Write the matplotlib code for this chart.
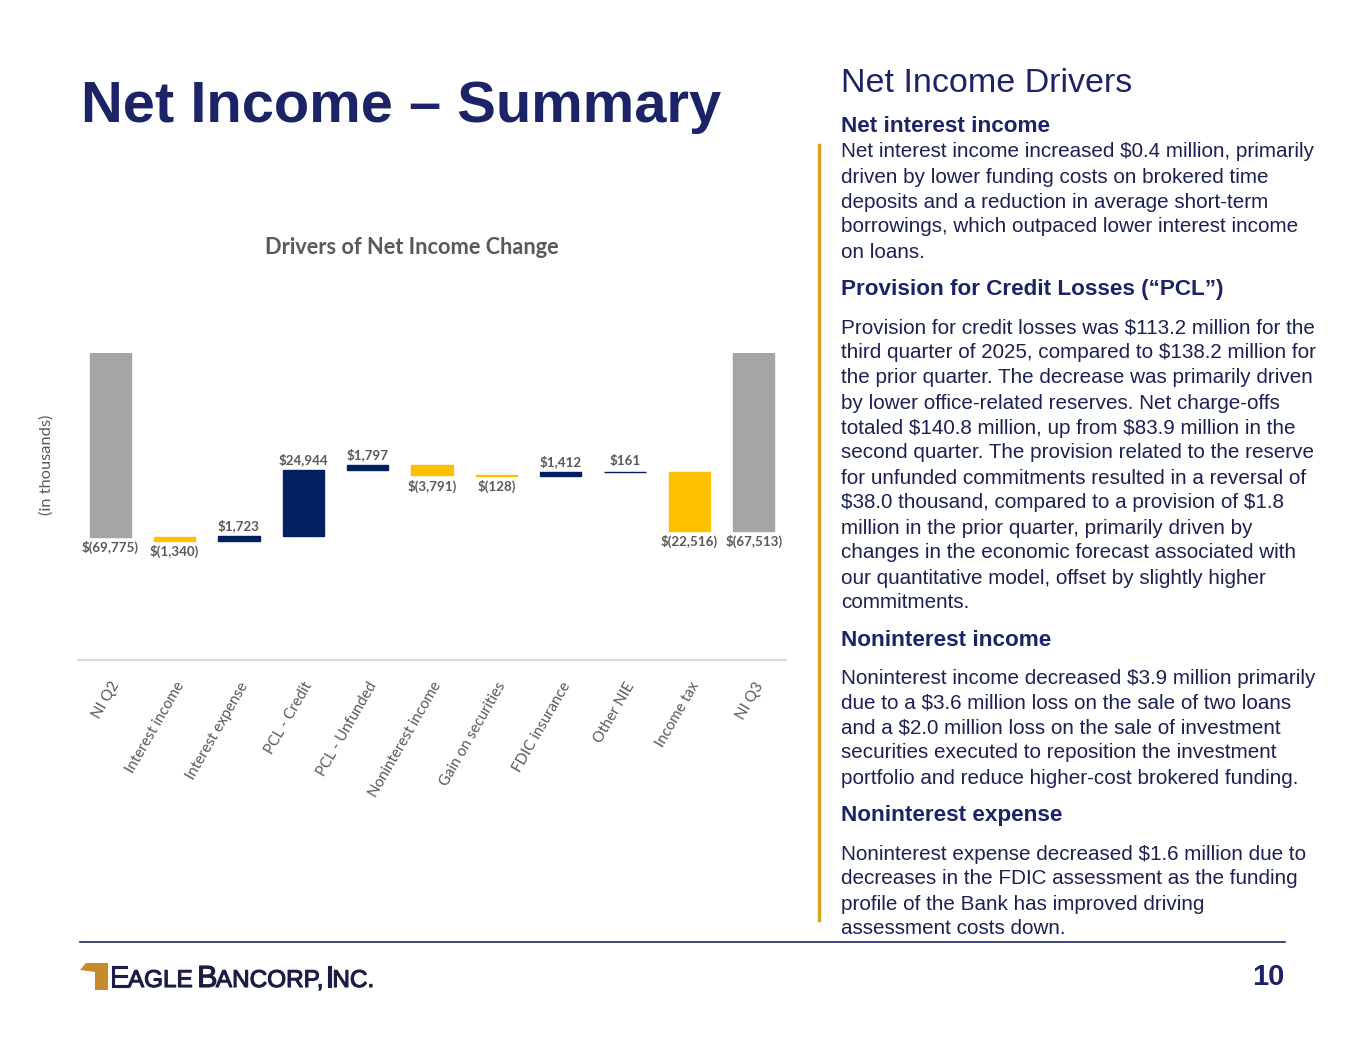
import numpy as np
import matplotlib.pyplot as plt
from matplotlib.patches import Polygon
import matplotlib.patheffects as pe

plt.rcParams['text.parse_math'] = False

W, H = 1365, 1055

categories = ['NI Q2', 'Interest income', 'Interest expense', 'PCL - Credit', 'PCL - Unfunded',
              'Noninterest income', 'Gain on securities', 'FDIC insurance', 'Other NIE',
              'Income tax', 'NI Q3']
values = [-69775, -1340, 1723, 24944, 1797, -3791, -128, 1412, 161, -22516, -67513]
is_total = [True, False, False, False, False, False, False, False, False, False, True]

navy = '#1c2366'
body_col = '#1b2152'
gray_txt = '#595959'
c_total = '#a5a5a5'
c_up = '#002060'
c_down = '#ffc000'


def fx(x):
    return x / W


def fy(y):
    return 1 - y / H


def money(v):
    if v < 0:
        return '$({:,})'.format(-v)
    return '${:,}'.format(v)


fig = plt.figure(figsize=(W / 100, H / 100), dpi=100)
fig.patch.set_facecolor('white')

# ---- waterfall chart ----
ax_l, ax_r, ax_t, ax_b = 78, 786, 353, 660
ax = fig.add_axes([fx(ax_l), fy(ax_b), (ax_r - ax_l) / W, (ax_b - ax_t) / H])
ax.set_xlim(-0.5, len(categories) - 0.5)
ax.set_ylim(-116420, 0)
for s in ['top', 'right', 'left']:
    ax.spines[s].set_visible(False)
ax.spines['bottom'].set_color('#d9d9d9')
ax.spines['bottom'].set_linewidth(1.5)
ax.set_yticks([])
ax.tick_params(axis='x', length=0, pad=14)
ax.set_xticks(range(len(categories)))
ax.set_xticklabels(categories, rotation=60, ha='right', va='top', rotation_mode='anchor',
                   color=gray_txt, fontsize=10.8, family='Lato')

run = 0
for i, v in enumerate(values):
    if is_total[i]:
        bottom, height, col = v, -v, c_total
        run = v
        top_val, bot_val = 0, v
        above = False
    else:
        bottom = min(run, run + v)
        height = abs(v)
        col = c_up if v > 0 else c_down
        top_val, bot_val = bottom + height, bottom
        above = v > 0
        run = run + v
    ax.bar(i, height, bottom=bottom, width=0.64, color=col, edgecolor=col, linewidth=1.0)
    if above:
        ax.annotate(money(v), (i, top_val), xytext=(0, 3), textcoords='offset points',
                    ha='center', va='bottom', color=gray_txt, fontsize=9.6,
                    fontweight='bold', family='Lato', annotation_clip=False)
    else:
        ax.annotate(money(v), (i, bot_val), xytext=(0, -3), textcoords='offset points',
                    ha='center', va='top', color=gray_txt, fontsize=9.6,
                    fontweight='bold', family='Lato', annotation_clip=False)

fig.text(fx(412), fy(248), 'Drivers of Net Income Change', ha='center', va='center',
         color=gray_txt, fontsize=15.7, fontweight='bold', family='Lato')
fig.text(fx(47), fy(465), '(in thousands)', ha='center', va='center', rotation=90,
         color=gray_txt, fontsize=11.8, family='Lato')

# ---- slide title ----
fig.text(fx(81), fy(122), 'Net Income – Summary', ha='left', va='baseline',
         color=navy, fontsize=41.7, fontweight='bold', family='Liberation Sans')

# ---- right column ----
fig.text(fx(841), fy(92), 'Net Income Drivers', ha='left', va='baseline',
         color=navy, fontsize=24.5, family='Liberation Sans')

lines = [
    (127, 'Net interest income', True),
    (152, 'Net interest income increased $0.4 million, primarily', False),
    (177, 'driven by lower funding costs on brokered time', False),
    (202, 'deposits and a reduction in average short-term', False),
    (227, 'borrowings, which outpaced lower interest income', False),
    (252, 'on loans.', False),
    (290, 'Provision for Credit Losses (“PCL”)', True),
    (328, 'Provision for credit losses was $113.2 million for the', False),
    (353, 'third quarter of 2025, compared to $138.2 million for', False),
    (378, 'the prior quarter. The decrease was primarily driven', False),
    (403, 'by lower office-related reserves. Net charge-offs', False),
    (428, 'totaled $140.8 million, up from $83.9 million in the', False),
    (453, 'second quarter. The provision related to the reserve', False),
    (478, 'for unfunded commitments resulted in a reversal of', False),
    (503, '$38.0 thousand, compared to a provision of $1.8', False),
    (528, 'million in the prior quarter, primarily driven by', False),
    (553, 'changes in the economic forecast associated with', False),
    (578, 'our quantitative model, offset by slightly higher', False),
    (603, 'commitments.', False),
    (640, 'Noninterest income', True),
    (678, 'Noninterest income decreased $3.9 million primarily', False),
    (703, 'due to a $3.6 million loss on the sale of two loans', False),
    (728, 'and a $2.0 million loss on the sale of investment', False),
    (753, 'securities executed to reposition the investment', False),
    (778, 'portfolio and reduce higher-cost brokered funding.', False),
    (816, 'Noninterest expense', True),
    (854, 'Noninterest expense decreased $1.6 million due to', False),
    (879, 'decreases in the FDIC assessment as the funding', False),
    (904, 'profile of the Bank has improved driving', False),
    (928, 'assessment costs down.', False),
]
for y, txt, bold in lines:
    fig.text(fx(841), fy(y), txt, ha='left', va='center',
             color=navy if bold else body_col, fontsize=16.2 if bold else 14.9,
             fontweight='bold' if bold else 'normal', family='Liberation Sans')

# gold accent bar and bottom rule
fig.add_artist(plt.Line2D([fx(819), fx(819)], [fy(145), fy(920)], color='#dba41e', lw=2.5))
fig.add_artist(plt.Line2D([fx(80), fx(1285)], [fy(942), fy(942)], color='#1f2a5e', lw=1.2))

# ---- footer logo ----
icon = Polygon([[fx(80), fy(970)], [fx(86), fy(963)], [fx(108), fy(963)], [fx(108), fy(990)],
                [fx(95), fy(990)], [fx(95), fy(972)]], closed=True,
               facecolor='#c58a2c', edgecolor='none', transform=fig.transFigure)
fig.add_artist(icon)
fig.canvas.draw()
renderer = fig.canvas.get_renderer()
x_cur = 109
for part, size, gap in [('E', 22, 0), ('AGLE', 17.5, 6), ('B', 22, 0), ('ANCORP,', 17.5, 4),
                        ('I', 22, 0), ('NC.', 17.5, 0)]:
    t = fig.text(fx(x_cur), fy(987), part, ha='left', va='baseline', color='#1a1d45',
                 fontsize=size, family='Liberation Sans',
                 path_effects=[pe.withStroke(linewidth=0.8, foreground='#1a1d45')])
    bb = t.get_window_extent(renderer)
    x_cur += bb.width - 1.5 + gap

fig.text(fx(1285), fy(977), '10', ha='right', va='center', color=navy,
         fontsize=21, fontweight='bold', family='Liberation Sans')

fig.savefig('out.png', dpi=100, facecolor='white')
